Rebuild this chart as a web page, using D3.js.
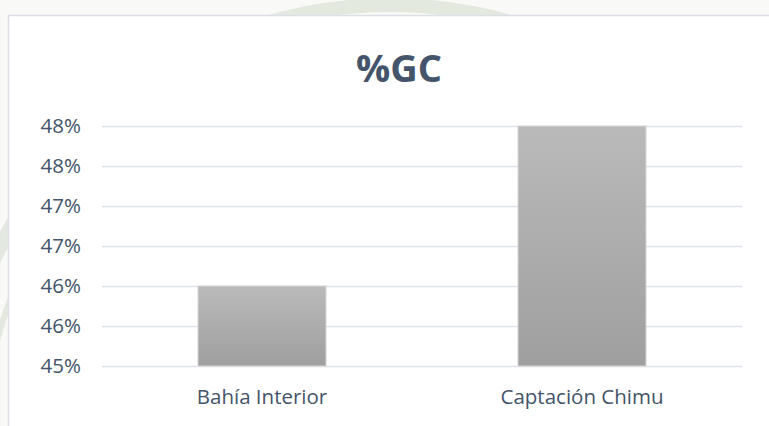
<!DOCTYPE html>
<html>
<head>
<meta charset="utf-8">
<script src="https://cdn.jsdelivr.net/npm/d3@7"></script>
<style>
  html, body { margin: 0; padding: 0; background: #ffffff; }
  svg { display: block; }
</style>
</head>
<body>
<svg id="chart" width="769" height="426"></svg>
<script>
// %GC per sampling site
const categories = ["Bahía Interior", "Captación Chimu"];
const gcValues = [46, 48];
const tickValues = [45, 45.5, 46, 46.5, 47, 47.5, 48];
const tickLabels = ["45%", "46%", "46%", "47%", "47%", "48%", "48%"];
const chartTitle = "%GC";

const W = 769, H = 426;
const svg = d3.select("#chart");

// page backdrop with a faint seal watermark
svg.append("rect").attr("width", W).attr("height", H).attr("fill", "#f9faf8");
const wm = svg.append("g").attr("fill", "none").attr("stroke", "#e4e9e0");
wm.append("circle").attr("cx", 390).attr("cy", 440).attr("r", 435).attr("stroke-width", 14);
wm.append("circle").attr("cx", 390).attr("cy", 440).attr("r", 405).attr("stroke-width", 6);

// chart frame
svg.append("rect")
  .attr("x", 8.5).attr("y", 15.5)
  .attr("width", W + 20).attr("height", H + 20)
  .attr("fill", "#ffffff")
  .attr("stroke", "#dcdfe6").attr("stroke-width", 1.5);

const margin = { left: 102, right: 27, top: 126, bottom: 60 };
const x = d3.scaleBand()
  .domain(categories)
  .range([margin.left, W - margin.right])
  .paddingInner(0.6).paddingOuter(0.3);
const y = d3.scaleLinear().domain([45, 48]).range([366, 126]);

const textColor = "#44546a";
const fontFam = "'Open Sans', 'Noto Sans', sans-serif";

// title
svg.append("text")
  .attr("x", 399).attr("y", 82)
  .attr("text-anchor", "middle")
  .attr("font-family", fontFam)
  .attr("font-weight", "bold")
  .attr("font-size", 38)
  .attr("fill", textColor)
  .text(chartTitle);

// gridlines + y labels
const yAxis = d3.axisLeft(y)
  .tickValues(tickValues)
  .tickFormat((d, i) => tickLabels[i])
  .tickSize(-(W - margin.right - margin.left))
  .tickPadding(21);
const gy = svg.append("g").attr("transform", `translate(${margin.left},0)`).call(yAxis);
gy.select(".domain").remove();
gy.selectAll(".tick line").attr("stroke", "#dfe1e8").attr("stroke-width", 1.5);
gy.selectAll(".tick text")
  .attr("font-family", fontFam).attr("font-size", 20.5).attr("fill", textColor);

// bar gradient
const defs = svg.append("defs");
const grad = defs.append("linearGradient").attr("id", "barGrad")
  .attr("x1", 0).attr("y1", 0).attr("x2", 0).attr("y2", 1);
grad.append("stop").attr("offset", "0%").attr("stop-color", "#bababa");
grad.append("stop").attr("offset", "100%").attr("stop-color", "#9f9f9f");

svg.append("g").selectAll("rect")
  .data(categories)
  .join("rect")
  .attr("x", d => x(d))
  .attr("width", x.bandwidth())
  .attr("y", (d, i) => y(gcValues[i]))
  .attr("height", (d, i) => y(45) - y(gcValues[i]))
  .attr("fill", "url(#barGrad)")
  .attr("stroke", "#d6d6d6").attr("stroke-width", 1);

// x labels
const xAxis = d3.axisBottom(x).tickSize(0).tickPadding(23);
const gx = svg.append("g").attr("transform", "translate(0,366)").call(xAxis);
gx.select(".domain").remove();
gx.selectAll(".tick text")
  .attr("font-family", fontFam).attr("font-size", 20.5).attr("fill", textColor);
</script>
</body>
</html>
